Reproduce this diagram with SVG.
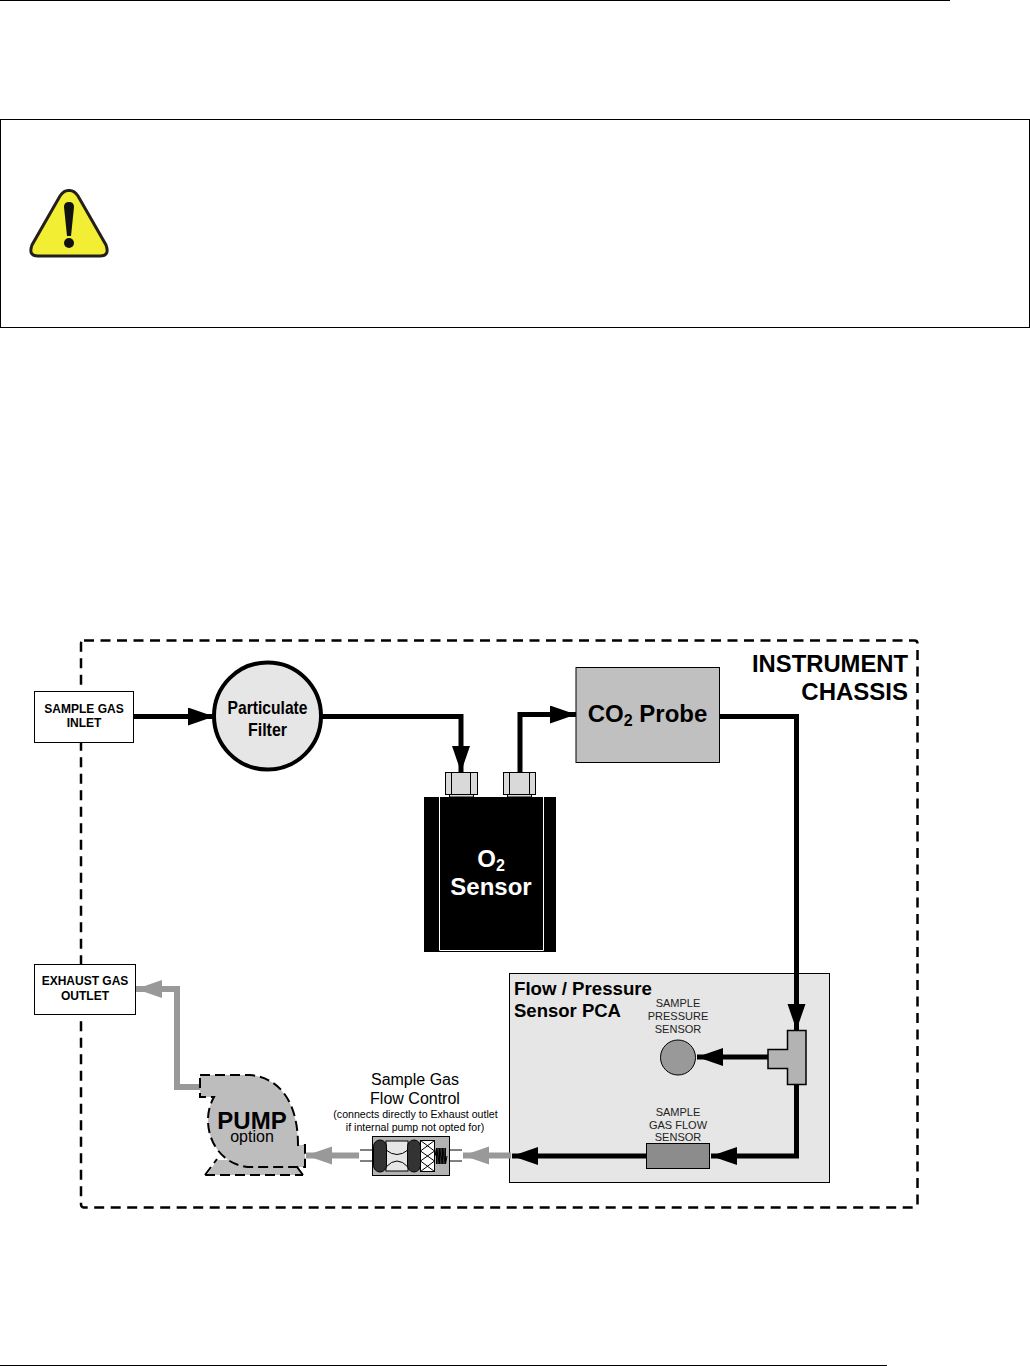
<svg xmlns="http://www.w3.org/2000/svg" width="1030" height="1366" viewBox="0 0 1030 1366">
<style>
text{font-family:"Liberation Sans",Arial,sans-serif;fill:#000}
.m{text-anchor:middle}
.b{font-weight:bold}
.pipe{fill:none;stroke:#000;stroke-width:5}
.gpipe{fill:none;stroke:#999;stroke-width:6}
.s{font-size:11px;fill:#222}
.box{fill:#fff;stroke:#000;stroke-width:1}
.fit{fill:#d9d9d9;stroke:#000;stroke-width:1}
.pd{stroke:#000;stroke-width:2;stroke-dasharray:10 5}
</style>
<defs>
<marker id="ah" markerUnits="userSpaceOnUse" markerWidth="28" markerHeight="20" refX="26" refY="9" orient="auto"><path d="M0 0L26 9L0 18Z" fill="#000"/></marker>
<marker id="gh" markerUnits="userSpaceOnUse" markerWidth="30" markerHeight="20" refX="26" refY="9" orient="auto"><path d="M0 0L26 9L0 18Z" fill="#999"/></marker>
</defs>
<g id="page-rules">
<path d="M0 .5H950" stroke="#000" stroke-width="1"/>
<path d="M0 1365.500H887" stroke="#000" stroke-width="1"/>
</g>
<g id="warning">
<rect x=".5" y="119.500" width="1029" height="208" fill="#fff" stroke="#000" stroke-width="1"/>
<path d="M69 190.500Q64 190 60 196L32 245Q28 256 38 256H100Q110 256 106 245L78 196Q74 190 69 190.500Z" fill="#f2ee33" stroke="#231f1a" stroke-width="3"/>
<path d="M64 207Q64 202 69 202Q74 202 74 207L71 236H67Z" fill="#111"/>
<circle cx="69" cy="243" r="5" fill="#111"/>
</g>
<g id="chassis"><rect x="81" y="640.500" width="836.500" height="567" rx="3" fill="none" stroke="#000" stroke-width="2.500" stroke-dasharray="10 6.500"/>
<text x="908" y="672" text-anchor="end" class="b" font-size="24" textLength="156" lengthAdjust="spacingAndGlyphs">INSTRUMENT</text>
<text x="908" y="700" text-anchor="end" class="b" font-size="24">CHASSIS</text></g>
<g id="pca"><rect x="509.500" y="973.500" width="320" height="209" fill="#e6e6e6" stroke="#000" stroke-width="1"/>
<text x="514" y="995" class="b" font-size="19" textLength="138" lengthAdjust="spacingAndGlyphs">Flow / Pressure</text>
<text x="514" y="1017" class="b" font-size="19" textLength="107" lengthAdjust="spacingAndGlyphs">Sensor PCA</text></g>
<g id="connectors">
<path class="pipe" d="M134 716.500H214" marker-end="url(#ah)"/>
<path class="pipe" d="M322 716.500H461V772" marker-end="url(#ah)"/>
<path class="pipe" d="M520 772V714.500H576" marker-end="url(#ah)"/>
<path class="pipe" d="M719 716.500H796.500V1030" marker-end="url(#ah)"/>
<path class="pipe" d="M768 1057H697" marker-end="url(#ah)"/>
<path class="pipe" d="M796.500 1085V1156H711" marker-end="url(#ah)"/>
<path class="pipe" d="M646 1156H512" marker-end="url(#ah)"/>
<path class="gpipe" d="M511 1155.500H463" marker-end="url(#gh)"/>
<path class="gpipe" d="M359 1155.500H306" marker-end="url(#gh)"/>
<path class="gpipe" d="M201 1087H177V989H136" marker-end="url(#gh)"/>
</g>
<g id="sample-inlet"><rect class="box" x="34.500" y="691.500" width="99" height="51"/>
<text x="84" y="713" class="m b" font-size="12">SAMPLE GAS</text>
<text x="84" y="727" class="m b" font-size="12">INLET</text></g>
<g id="filter"><circle cx="267.500" cy="716" r="53.500" fill="#e6e6e6" stroke="#000" stroke-width="4"/>
<text x="267.500" y="714" class="m b" font-size="19" textLength="80" lengthAdjust="spacingAndGlyphs">Particulate</text>
<text x="267.500" y="736" class="m b" font-size="19" textLength="39" lengthAdjust="spacingAndGlyphs">Filter</text></g>
<g id="co2-probe"><rect x="576" y="667.500" width="143.500" height="95" fill="#c0c0c0" stroke="#000" stroke-width="1"/>
<text x="647.500" y="722" class="m b" font-size="24">CO<tspan font-size="16" dy="4">2</tspan><tspan dy="-4"> Probe</tspan></text></g>
<g id="o2-sensor">
<rect x="424" y="797" width="132" height="155" fill="#000"/>
<path d="M439.500 797V950.500H543.500V797" fill="none" stroke="#fff" stroke-width="1"/>
<g id="o2-fitting-left"><path d="M449.500 792H473.500V797H449.500Z" fill="#d9d9d9" stroke="#000" stroke-width="1"/><rect class="fit" x="445.500" y="772.500" width="32" height="22"/><path d="M451.500 772.500V794.500M470.500 772.500V794.500" stroke="#000" stroke-width="1"/></g>
<g id="o2-fitting-right"><path d="M507.500 792H531.500V797H507.500Z" fill="#d9d9d9" stroke="#000" stroke-width="1"/><rect class="fit" x="503.500" y="772.500" width="32" height="22"/><path d="M509.500 772.500V794.500M529.500 772.500V794.500" stroke="#000" stroke-width="1"/></g>
<text x="491" y="867" class="m b" font-size="24" style="fill:#fff">O<tspan font-size="16" dy="4" style="fill:#fff">2</tspan></text>
<text x="491" y="895" class="m b" font-size="24" style="fill:#fff">Sensor</text></g>
<g id="tee"><path d="M787.500 1030.500H806V1084.500H787.500V1068.500H768V1049.500H787.500Z" fill="#b3b3b3" stroke="#000" stroke-width="1.500"/></g>
<g id="pressure-sensor"><circle cx="678" cy="1057.500" r="17.500" fill="#999" stroke="#000" stroke-width="1"/>
<text x="678" y="1007" class="m s">SAMPLE</text><text x="678" y="1020" class="m s">PRESSURE</text><text x="678" y="1033" class="m s">SENSOR</text></g>
<g id="flow-sensor"><rect x="646.500" y="1143.500" width="63" height="25" fill="#8c8c8c" stroke="#000" stroke-width="1"/>
<text x="678" y="1116" class="m s">SAMPLE</text><text x="678" y="1129" class="m s">GAS FLOW</text><text x="678" y="1141" class="m s">SENSOR</text></g>
<g id="flow-control">
<text x="415" y="1085" class="m" font-size="16">Sample Gas</text>
<text x="415" y="1104" class="m" font-size="16">Flow Control</text>
<text x="415.500" y="1118" class="m" font-size="10.600">(connects directly to Exhaust outlet</text>
<text x="415" y="1131" class="m" font-size="10.600">if internal pump not opted for)</text>
<path d="M360 1150H373M360 1161H373M449 1150H462M449 1161H462" stroke="#000" stroke-width="1"/>
<rect x="372.500" y="1136.500" width="77" height="39" fill="#b3b3b3" stroke="#000" stroke-width="1"/>
<rect x="386" y="1141" width="22" height="30" fill="#e6e6e6" stroke="#000" stroke-width="1"/>
<path d="M386 1150Q397 1159 408 1150M386 1167Q397 1155 408 1167" fill="none" stroke="#000" stroke-width="1"/>
<rect x="373.500" y="1140" width="13" height="32" rx="6.500" fill="#333" stroke="#000" stroke-width="1"/>
<rect x="407.500" y="1140" width="13" height="32" rx="6.500" fill="#333" stroke="#000" stroke-width="1"/>
<rect x="420.500" y="1140.500" width="14" height="31" fill="#fff" stroke="#000" stroke-width="1"/>
<path d="M420.500 1140.500L434.500 1151L420.500 1161L434.500 1171.500M434.500 1140.500L420.500 1151L434.500 1161L420.500 1171.500" fill="none" stroke="#000" stroke-width="1"/>
<path d="M435 1156L436.500 1148V1164L438 1148V1164L439.500 1148V1164L441 1148V1164L442.500 1148V1164L444 1148V1164L445.500 1148V1164L447 1156" fill="none" stroke="#000" stroke-width="1"/>
</g>
<g id="pump">
<path d="M207 1175H302L296 1160H217Z" fill="#bdbdbd"/>
<path class="pd" d="M200 1075H250C282 1078 298 1105 298 1145H305V1167H248C225 1165 208 1145 208 1120C208 1112 210 1104 214 1097H200Z" fill="#bdbdbd"/>
<path class="pd" d="M205 1175H303M205 1175L217 1159M303 1175L297 1167" fill="none"/>
<text x="252" y="1129" class="m b" font-size="24">PUMP</text>
<text x="252" y="1142" class="m" font-size="16">option</text>
</g>
<g id="exhaust-outlet"><rect class="box" x="34.500" y="964.500" width="101" height="50"/>
<text x="85" y="985" class="m b" font-size="12">EXHAUST GAS</text>
<text x="85" y="1000" class="m b" font-size="12">OUTLET</text></g>
</svg>
